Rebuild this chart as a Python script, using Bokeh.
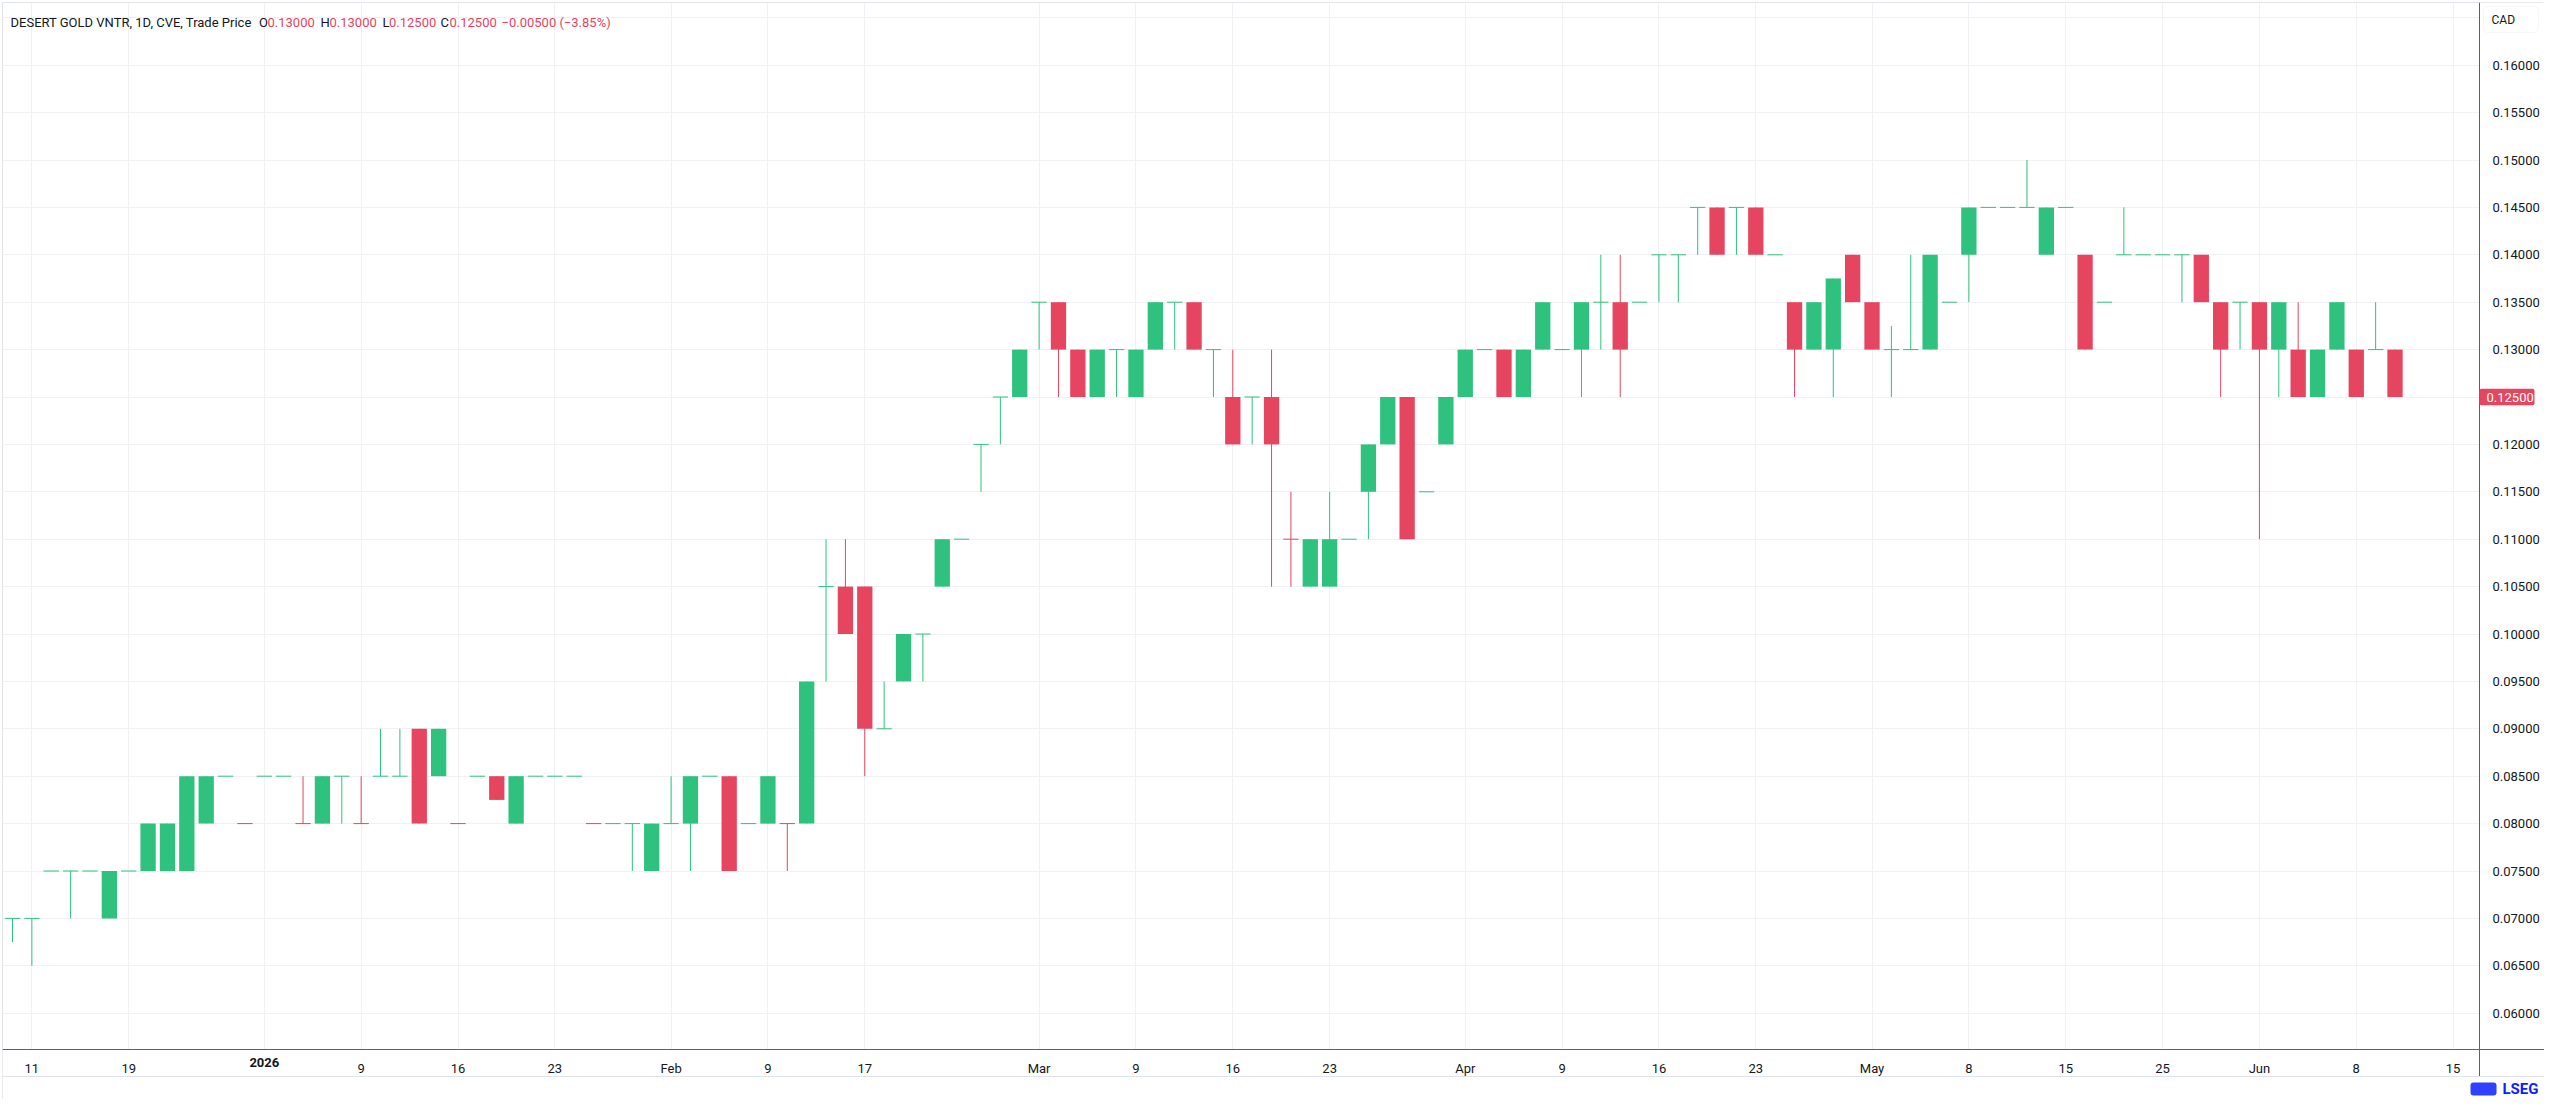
from bokeh.plotting import figure
from bokeh.models import (Range1d, FixedTicker, NumeralTickFormatter, Label,
                          ColumnDataSource, BoxAnnotation, Span)
from bokeh.embed import file_html
from bokeh.resources import INLINE

# ---------------- data (daily bars, DESERT GOLD VNTR, CVE) ----------------
opens = [
    0.07, 0.07, 0.075, 0.075, 0.075, 0.07, 0.075, 0.075, 0.075, 0.075,
    0.08, 0.085, 0.08, 0.085, 0.085, 0.08, 0.08, 0.085, 0.08, 0.085,
    0.085, 0.09, 0.085, 0.08, 0.085, 0.085, 0.08, 0.085, 0.085, 0.085,
    0.08, 0.08, 0.08, 0.075, 0.08, 0.08, 0.085, 0.085, 0.08, 0.08,
    0.08, 0.08, 0.105, 0.105, 0.105, 0.09, 0.095, 0.10, 0.105, 0.11,
    0.12, 0.125, 0.125, 0.135, 0.135, 0.13, 0.125, 0.13, 0.125, 0.13,
    0.135, 0.135, 0.13, 0.125, 0.125, 0.125, 0.11, 0.105, 0.105, 0.11,
    0.115, 0.12, 0.125, 0.115, 0.12, 0.125, 0.13, 0.13, 0.125, 0.13,
    0.13, 0.13, 0.135, 0.135, 0.135, 0.14, 0.14, 0.145, 0.145, 0.145,
    0.145, 0.14, 0.135, 0.13, 0.13, 0.14, 0.135, 0.13, 0.13, 0.13,
    0.135, 0.14, 0.145, 0.145, 0.145, 0.14, 0.145, 0.14, 0.135, 0.14,
    0.14, 0.14, 0.14, 0.14, 0.135, 0.135, 0.135, 0.13, 0.13, 0.125,
    0.13, 0.13, 0.13, 0.13,
]
highs = [
    0.07, 0.07, 0.075, 0.075, 0.075, 0.075, 0.075, 0.08, 0.08, 0.085,
    0.085, 0.085, 0.08, 0.085, 0.085, 0.085, 0.085, 0.085, 0.085, 0.09,
    0.09, 0.09, 0.09, 0.08, 0.085, 0.085, 0.085, 0.085, 0.085, 0.085,
    0.08, 0.08, 0.08, 0.08, 0.085, 0.085, 0.085, 0.085, 0.08, 0.085,
    0.08, 0.095, 0.11, 0.11, 0.105, 0.095, 0.10, 0.10, 0.11, 0.11,
    0.12, 0.125, 0.13, 0.135, 0.135, 0.13, 0.13, 0.13, 0.13, 0.135,
    0.135, 0.135, 0.13, 0.13, 0.125, 0.13, 0.115, 0.11, 0.115, 0.11,
    0.12, 0.125, 0.125, 0.115, 0.125, 0.13, 0.13, 0.13, 0.13, 0.135,
    0.13, 0.135, 0.14, 0.14, 0.135, 0.14, 0.14, 0.145, 0.145, 0.145,
    0.145, 0.14, 0.135, 0.135, 0.1375, 0.14, 0.135, 0.1325, 0.14, 0.14,
    0.135, 0.145, 0.145, 0.145, 0.15, 0.145, 0.145, 0.14, 0.135, 0.145,
    0.14, 0.14, 0.14, 0.14, 0.135, 0.135, 0.135, 0.135, 0.135, 0.13,
    0.135, 0.13, 0.135, 0.13,
]
lows = [
    0.0675, 0.065, 0.075, 0.07, 0.075, 0.07, 0.075, 0.075, 0.075, 0.075,
    0.08, 0.085, 0.08, 0.085, 0.085, 0.08, 0.08, 0.08, 0.08, 0.085,
    0.085, 0.08, 0.085, 0.08, 0.085, 0.0825, 0.08, 0.085, 0.085, 0.085,
    0.08, 0.08, 0.075, 0.075, 0.08, 0.075, 0.085, 0.075, 0.08, 0.08,
    0.075, 0.08, 0.095, 0.10, 0.085, 0.09, 0.095, 0.095, 0.105, 0.11,
    0.115, 0.12, 0.125, 0.13, 0.125, 0.125, 0.125, 0.125, 0.125, 0.13,
    0.13, 0.13, 0.125, 0.12, 0.12, 0.105, 0.105, 0.105, 0.105, 0.11,
    0.11, 0.12, 0.11, 0.115, 0.12, 0.125, 0.13, 0.125, 0.125, 0.13,
    0.13, 0.125, 0.13, 0.125, 0.135, 0.135, 0.135, 0.14, 0.14, 0.14,
    0.14, 0.14, 0.125, 0.13, 0.125, 0.135, 0.13, 0.125, 0.13, 0.13,
    0.135, 0.135, 0.145, 0.145, 0.145, 0.14, 0.145, 0.13, 0.135, 0.14,
    0.14, 0.14, 0.135, 0.135, 0.125, 0.13, 0.11, 0.125, 0.125, 0.125,
    0.13, 0.125, 0.13, 0.125,
]
closes = [
    0.07, 0.07, 0.075, 0.075, 0.075, 0.075, 0.075, 0.08, 0.08, 0.085,
    0.085, 0.085, 0.08, 0.085, 0.085, 0.08, 0.085, 0.085, 0.08, 0.085,
    0.085, 0.08, 0.09, 0.08, 0.085, 0.0825, 0.085, 0.085, 0.085, 0.085,
    0.08, 0.08, 0.08, 0.08, 0.08, 0.085, 0.085, 0.075, 0.08, 0.085,
    0.08, 0.095, 0.105, 0.10, 0.09, 0.09, 0.10, 0.10, 0.11, 0.11,
    0.12, 0.125, 0.13, 0.135, 0.13, 0.125, 0.13, 0.13, 0.13, 0.135,
    0.135, 0.13, 0.13, 0.12, 0.125, 0.12, 0.11, 0.11, 0.11, 0.11,
    0.12, 0.125, 0.11, 0.115, 0.125, 0.13, 0.13, 0.125, 0.13, 0.135,
    0.13, 0.135, 0.135, 0.13, 0.135, 0.14, 0.14, 0.145, 0.14, 0.145,
    0.14, 0.14, 0.13, 0.135, 0.1375, 0.135, 0.13, 0.13, 0.13, 0.14,
    0.135, 0.145, 0.145, 0.145, 0.145, 0.145, 0.145, 0.13, 0.135, 0.14,
    0.14, 0.14, 0.14, 0.135, 0.13, 0.135, 0.13, 0.135, 0.125, 0.13,
    0.135, 0.125, 0.13, 0.125,
]
# candle colour as drawn in the chart: U = up (green), D = down (red)
candle_dir = (
    "UUUUUUUUUU" "UUDUUDUUDU" "UDUDUDUUUU" "DUUUUUUDUU" "DUUDDUUUUU"
    "UUUUDDUUUU" "UDUDUDDUUU" "UUDUUUUDUU" "UUUDUUUUDU" "DUDUUDDUUU"
    "UUUUUUUDUU" "UUUDDUDUDU" "UDUD"
)

# x-axis: bar index -> date label
tick_bars = [1, 6, 13, 18, 23, 28, 34, 39, 44, 53, 58, 63, 68, 75, 80, 85, 90,
             96, 101, 106, 111, 116, 121, 126]
tick_labels = ["11", "19", "2026", "9", "16", "23", "Feb", "9", "17", "Mar", "9",
               "16", "23", "Apr", "9", "16", "23", "May", "8", "15", "25", "Jun",
               "8", "15"]
bold_labels = ["2026"]

price_ticks = [0.06, 0.065, 0.07, 0.075, 0.08, 0.085, 0.09, 0.095, 0.10, 0.105,
               0.11, 0.115, 0.12, 0.125, 0.13, 0.135, 0.14, 0.145, 0.15, 0.155, 0.16]
grid_levels = price_ticks + [0.165]

title_text = "DESERT GOLD VNTR, 1D, CVE, Trade Price"
currency = "CAD"
brand = "LSEG"

# ---------------- styling / layout ----------------
UP = "#2ec27e"
DOWN = "#e5455f"
TEXT = "#131722"
GRID = "#f0f1f4"
AXIS = "#5d606b"
BORDER = "#e0e3eb"
BRAND = "#0a1eff"
FONT = "Roboto"

FIG_W, FIG_H = 2544, 1099
PAD_L, PAD_T = 2, 2
FRAME_W = FIG_W - PAD_L          # frame spans to the right/bottom figure edge
FRAME_H = FIG_H - PAD_T
PX_BAR = 19.37                   # pixels per bar
PX_UNIT = 9480.0                 # pixels per price unit (47.4 px per 0.005)
PAGE0 = 8 + PAD_L                # page x / y of frame's left / top edge

X_MIN = -10.0 / PX_BAR
X_MAX = X_MIN + FRAME_W / PX_BAR
Y_MAX = 0.16 + 62.7 / PX_UNIT
Y_MIN = Y_MAX - FRAME_H / PX_UNIT


def xd(page_x):
    return X_MIN + (page_x - PAGE0) / PX_BAR


def yd(page_y):
    return Y_MAX - (page_y - PAGE0) / PX_UNIT


SCALE_X = xd(2487)     # price-scale separator
AXIS_Y = yd(1057)      # time-axis line
OUTER_Y = yd(1084)     # outer chart border below the time labels

n = len(closes)
xs = list(range(n))
colors = [UP if d == "U" else DOWN for d in candle_dir]

p = figure(width=FIG_W, height=FIG_H, output_backend="svg", toolbar_location=None,
           x_range=Range1d(X_MIN, X_MAX), y_range=Range1d(Y_MIN, Y_MAX),
           y_axis_location="right",
           min_border_left=PAD_L, min_border_right=0, min_border_top=PAD_T,
           min_border_bottom=0,
           background_fill_color="white", border_fill_color="white")
p.outline_line_color = BORDER

# grid
p.xgrid.grid_line_color = GRID
p.ygrid.grid_line_color = GRID
p.ygrid.ticker = FixedTicker(ticks=grid_levels)
p.xgrid.ticker = FixedTicker(ticks=tick_bars)

# white masks so the grid stops at the price scale and the time axis
p.add_layout(BoxAnnotation(left=SCALE_X, fill_color="white", fill_alpha=1,
                           line_color=None, level="underlay"))
p.add_layout(BoxAnnotation(top=AXIS_Y, fill_color="white", fill_alpha=1,
                           line_color=None, level="underlay"))

# axes (labels drawn inward onto the scale areas)
overrides = {}
for b, lab in zip(tick_bars, tick_labels):
    overrides[b] = "" if lab in bold_labels else lab
p.xaxis.ticker = FixedTicker(ticks=tick_bars)
p.xaxis.major_label_overrides = overrides

last = closes[-1]
p.yaxis.ticker = FixedTicker(ticks=[t for t in price_ticks if abs(t - last) > 1e-9])
p.yaxis.formatter = NumeralTickFormatter(format="0.00000")

for ax in (p.xaxis[0], p.yaxis[0]):
    ax.axis_line_color = None
    ax.major_tick_line_color = None
    ax.minor_tick_line_color = None
    ax.major_label_text_font = FONT
    ax.major_label_text_font_size = "13px"
    ax.major_label_text_color = TEXT
p.xaxis.major_label_standoff = -45
p.yaxis.major_label_standoff = -58

# separator lines
p.add_layout(Span(location=AXIS_Y, dimension="width", line_color=AXIS, line_width=1))
p.add_layout(Span(location=OUTER_Y, dimension="width", line_color=BORDER, line_width=1))
p.segment(x0=[SCALE_X], y0=[Y_MAX], x1=[SCALE_X], y1=[OUTER_Y],
          line_color=AXIS, line_width=1)

# candles
wick_src = ColumnDataSource(dict(x=xs, low=lows, high=highs, color=colors))
p.segment(x0="x", y0="low", x1="x", y1="high", line_color="color", line_width=1,
          source=wick_src)

body = dict(x=[], top=[], bottom=[], color=[])
doji = dict(x0=[], x1=[], y=[], color=[])
BW = 0.79
for i in range(n):
    o, c = opens[i], closes[i]
    if abs(o - c) > 1e-9:
        body["x"].append(i)
        body["top"].append(max(o, c))
        body["bottom"].append(min(o, c))
        body["color"].append(colors[i])
    else:
        doji["x0"].append(i - BW / 2)
        doji["x1"].append(i + BW / 2)
        doji["y"].append(c)
        doji["color"].append(colors[i])

p.vbar(x="x", width=BW, top="top", bottom="bottom", fill_color="color",
       line_color=None, source=ColumnDataSource(body))
p.segment(x0="x0", y0="y", x1="x1", y1="y", line_color="color", line_width=1,
          source=ColumnDataSource(doji))

# bold year label on the time axis
for b, lab in zip(tick_bars, tick_labels):
    if lab in bold_labels:
        p.add_layout(Label(x=b, y=yd(1070), text=lab, text_font=FONT,
                           text_font_size="13px", text_font_style="bold",
                           text_color=TEXT, text_align="center", text_baseline="middle"))

# legend line (symbol + OHLC values)
chg = closes[-1] - closes[-2]
pct = chg / closes[-2] * 100
val_color = UP if chg >= 0 else DOWN
sign = "+" if chg >= 0 else "\u2212"
parts = [
    (title_text, 18, TEXT),
    ("O", 266.5, TEXT), (f"{opens[-1]:.5f}", 275, val_color),
    ("H", 328, TEXT), (f"{highs[-1]:.5f}", 337, val_color),
    ("L", 390, TEXT), (f"{lows[-1]:.5f}", 396.5, val_color),
    ("C", 448, TEXT), (f"{closes[-1]:.5f}", 457, val_color),
    (f"{sign}{abs(chg):.5f} ({sign}{abs(pct):.2f}%)", 509, val_color),
]
for txt, px, col in parts:
    p.add_layout(Label(x=xd(px), y=yd(29.5), text=txt, text_font=FONT,
                       text_font_size="13px", text_color=col,
                       text_baseline="alphabetic"))

# last price badge on the price scale
half = 8.3 / PX_UNIT
p.add_layout(BoxAnnotation(left=SCALE_X, right=xd(2542), bottom=last - half,
                           top=last + half, fill_color=DOWN, fill_alpha=1,
                           line_color=None, border_radius=2))
p.add_layout(Label(x=xd(2494), y=last, text=f"{last:.5f}", text_font=FONT,
                   text_font_size="13px", text_color="white",
                   text_baseline="middle", text_align="left"))

# currency box at the top of the price scale
p.add_layout(BoxAnnotation(left=xd(2491), right=xd(2546), top=yd(14), bottom=yd(40),
                           fill_color="white", fill_alpha=1, line_color=BORDER,
                           line_width=1, border_radius=4))
p.add_layout(Label(x=xd(2499), y=yd(27), text=currency, text_font=FONT,
                   text_font_size="12px", text_color=TEXT, text_baseline="middle"))

# brand mark (small blue emblem + wordmark)
p.add_layout(BoxAnnotation(left=xd(2478), right=xd(2504), top=yd(1090), bottom=yd(1103),
                           fill_color=BRAND, fill_alpha=0.85, line_color=None,
                           border_radius=3))
p.add_layout(Label(x=xd(2546), y=yd(1096), text=brand, text_font=FONT,
                   text_font_size="15px", text_font_style="bold", text_color=BRAND,
                   text_baseline="middle", text_align="right"))

open("out.html", "w").write(file_html(p, INLINE))
